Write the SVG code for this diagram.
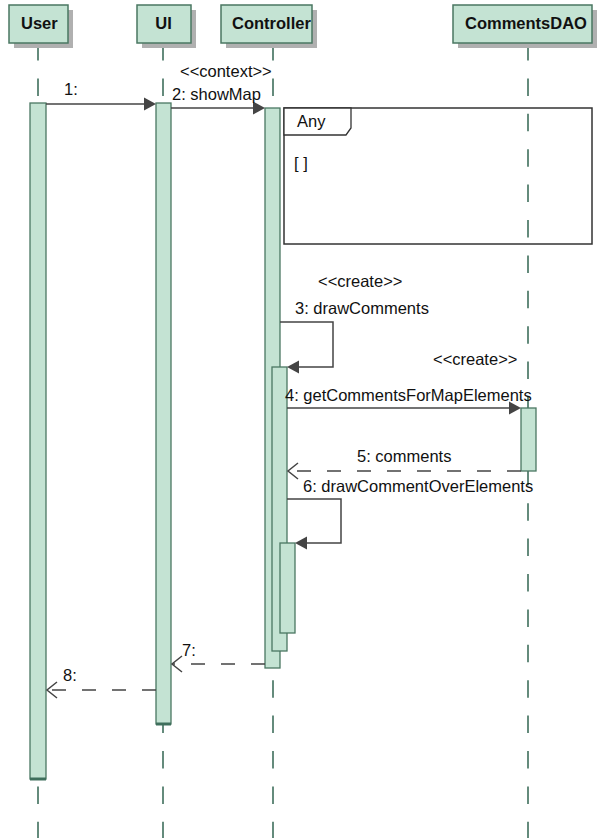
<svg xmlns="http://www.w3.org/2000/svg" width="601" height="838" viewBox="0 0 601 838">
  <style>
    .hdr { fill: #c4e3d3; stroke: #4a7762; stroke-width: 1.5; }
    .shadow { fill: #b0b0b0; }
    .hdrtext { font-family: "Liberation Sans", Arial, sans-serif; font-weight: bold; font-size: 16.5px; fill: #111; }
    .life { stroke: #3f6f5c; stroke-width: 1.6; stroke-dasharray: 17.5 17.9; fill: none; }
    .bar { fill: #c4e3d3; stroke: #4a7762; stroke-width: 1.3; }
    .barfoot { stroke: #3f6f5c; stroke-width: 3; }
    .msg { stroke: #444; stroke-width: 1.5; fill: none; }
    .ret { stroke: #444; stroke-width: 1.5; fill: none; stroke-dasharray: 14 16; }
    .head { fill: #444; stroke: none; }
    .open { stroke: #444; stroke-width: 1.5; fill: none; }
    .lbl { font-family: "Liberation Sans", Arial, sans-serif; font-size: 16.5px; fill: #111; }
    .frame { fill: none; stroke: #333; stroke-width: 1.5; }
    .tab { fill: #fff; stroke: #333; stroke-width: 1.3; }
  </style>

  <!-- lifelines -->
  <g id="lifelines">
    <line class="life" x1="38" y1="43" x2="38" y2="838"/>
    <line class="life" x1="163" y1="43" x2="163" y2="838"/>
    <line class="life" x1="273" y1="43" x2="273" y2="838"/>
    <line class="life" x1="528" y1="43" x2="528" y2="838"/>
  </g>

  <!-- combined fragment -->
  <g id="fragment">
    <rect class="frame" x="284" y="108" width="308" height="136"/>
    <path class="tab" d="M284,108 H351 V128 L346,135 H284 Z"/>
    <text class="lbl" x="297" y="127" font-size="17px">Any</text>
    <text class="lbl" x="294" y="169">[ ]</text>
  </g>

  <!-- participant heads -->
  <g id="user">
    <rect class="shadow" x="14" y="10" width="59" height="38"/>
    <rect class="hdr" x="9" y="5" width="59" height="38"/>
    <text class="hdrtext" x="21" y="29">User</text>
    <rect class="bar" x="30" y="103" width="16" height="676"/>
    <line class="barfoot" x1="30" y1="779" x2="46" y2="779"/>
  </g>
  <g id="ui">
    <rect class="shadow" x="142" y="10" width="54" height="38"/>
    <rect class="hdr" x="137" y="5" width="54" height="38"/>
    <text class="hdrtext" x="163.5" y="29" text-anchor="middle">UI</text>
    <rect class="bar" x="156" y="103" width="15" height="621"/>
    <line class="barfoot" x1="156" y1="724" x2="171" y2="724"/>
  </g>
  <g id="controller">
    <rect class="shadow" x="226" y="10" width="91" height="38"/>
    <rect class="hdr" x="221" y="5" width="91" height="38"/>
    <text class="hdrtext" x="232" y="29">Controller</text>
    <rect class="bar" x="265" y="108" width="15" height="560"/>
    <rect class="bar" x="272" y="367" width="15" height="284"/>
    <rect class="bar" x="280" y="543" width="15" height="90"/>
  </g>
  <g id="commentsdao">
    <rect class="shadow" x="458" y="10" width="139" height="38"/>
    <rect class="hdr" x="453" y="5" width="139" height="38"/>
    <text class="hdrtext" x="465" y="29">CommentsDAO</text>
    <rect class="bar" x="521" y="408" width="15" height="63"/>
  </g>

  <!-- messages -->
  <g id="connectors">
    <!-- 1 -->
    <line class="msg" x1="46" y1="104" x2="146" y2="104"/>
    <path class="head" d="M156,104 L144,97.5 L144,110.5 Z"/>
    <!-- 2 -->
    <line class="msg" x1="171" y1="108" x2="255" y2="108"/>
    <path class="head" d="M265,108 L253,101.5 L253,114.5 Z"/>
    <!-- 3 self call -->
    <path class="msg" d="M280,322 H333 V367 H297"/>
    <path class="head" d="M287,367 L299,360.5 L299,373.5 Z"/>
    <!-- 4 -->
    <line class="msg" x1="287" y1="408" x2="511" y2="408"/>
    <path class="head" d="M521,408 L509,401.5 L509,414.5 Z"/>
    <!-- 5 return -->
    <line class="ret" x1="521" y1="471" x2="288" y2="471"/>
    <path class="open" d="M298,463 L288,471 L298,479"/>
    <!-- 6 self call -->
    <path class="msg" d="M287,499 H341 V543 H305"/>
    <path class="head" d="M295,543 L307,536.5 L307,549.5 Z"/>
    <!-- 7 return -->
    <line class="ret" x1="265" y1="664" x2="172" y2="664"/>
    <path class="open" d="M182,656 L172,664 L182,672"/>
    <!-- 8 return -->
    <line class="ret" x1="156" y1="690" x2="47" y2="690"/>
    <path class="open" d="M57,682 L47,690 L57,698"/>
  </g>

  <!-- message labels -->
  <g id="labels">
    <text class="lbl" x="64" y="95">1:</text>
    <text class="lbl" x="180" y="77">&lt;&lt;context&gt;&gt;</text>
    <text class="lbl" x="172" y="100">2: showMap</text>
    <text class="lbl" x="318" y="287">&lt;&lt;create&gt;&gt;</text>
    <text class="lbl" x="295" y="314">3: drawComments</text>
    <text class="lbl" x="433" y="365">&lt;&lt;create&gt;&gt;</text>
    <text class="lbl" x="285" y="401">4: getCommentsForMapElements</text>
    <text class="lbl" x="357" y="462">5: comments</text>
    <text class="lbl" x="303" y="492">6: drawCommentOverElements</text>
    <text class="lbl" x="182" y="656">7:</text>
    <text class="lbl" x="63" y="681">8:</text>
  </g>
</svg>
